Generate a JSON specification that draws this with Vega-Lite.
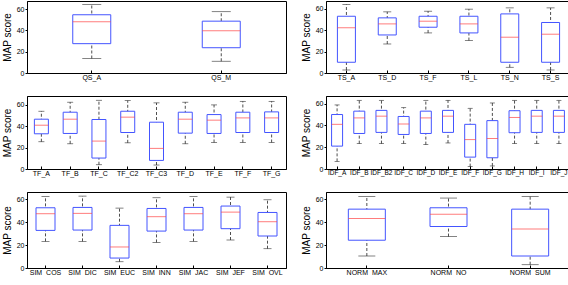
{
  "$schema": "https://vega.github.io/schema/vega-lite/v6.json",
  "padding": {"left": 1, "top": 0, "right": 2, "bottom": 0},
  "background": "white",
  "data": {"values": [
    {"g": "QS", "name": "QS_A", "lo": 13.6, "q1": 27.5, "med": 48.0, "q3": 54.6, "hi": 64.1},
    {"g": "QS", "name": "QS_M", "lo": 11.0, "q1": 23.7, "med": 39.5, "q3": 48.6, "hi": 57.5},
    {"g": "TS", "name": "TS_A", "lo": 2.8, "q1": 10.0, "med": 42.0, "q3": 52.8, "hi": 63.7},
    {"g": "TS", "name": "TS_D", "lo": 27.0, "q1": 35.4, "med": 45.7, "q3": 51.3, "hi": 56.9},
    {"g": "TS", "name": "TS_F", "lo": 37.3, "q1": 42.6, "med": 48.2, "q3": 52.8, "hi": 57.5},
    {"g": "TS", "name": "TS_L", "lo": 30.2, "q1": 37.3, "med": 45.7, "q3": 52.8, "hi": 59.4},
    {"g": "TS", "name": "TS_N", "lo": 5.3, "q1": 10.0, "med": 33.3, "q3": 55.0, "hi": 60.6},
    {"g": "TS", "name": "TS_S", "lo": 2.8, "q1": 10.0, "med": 36.1, "q3": 47.0, "hi": 60.6},
    {"g": "TF", "name": "TF_A", "lo": 25.4, "q1": 32.8, "med": 40.8, "q3": 46.4, "hi": 53.8},
    {"g": "TF", "name": "TF_B", "lo": 23.5, "q1": 33.1, "med": 46.4, "q3": 52.9, "hi": 62.2},
    {"g": "TF", "name": "TF_C", "lo": 4.0, "q1": 10.2, "med": 26.0, "q3": 46.1, "hi": 64.0},
    {"g": "TF", "name": "TF_C2", "lo": 24.4, "q1": 34.0, "med": 48.3, "q3": 53.8, "hi": 63.7},
    {"g": "TF", "name": "TF_C3", "lo": 3.7, "q1": 8.0, "med": 19.2, "q3": 43.6, "hi": 61.6},
    {"g": "TF", "name": "TF_D", "lo": 23.5, "q1": 33.4, "med": 46.4, "q3": 52.9, "hi": 62.2},
    {"g": "TF", "name": "TF_E", "lo": 24.7, "q1": 33.1, "med": 45.5, "q3": 50.7, "hi": 59.7},
    {"g": "TF", "name": "TF_F", "lo": 24.7, "q1": 34.0, "med": 47.6, "q3": 52.9, "hi": 63.0},
    {"g": "TF", "name": "TF_G", "lo": 24.7, "q1": 34.0, "med": 47.6, "q3": 53.2, "hi": 63.0},
    {"g": "IDF", "name": "IDF_A", "lo": 7.0, "q1": 21.0, "med": 41.0, "q3": 50.0, "hi": 58.8},
    {"g": "IDF", "name": "IDF_B", "lo": 23.3, "q1": 32.6, "med": 46.9, "q3": 53.1, "hi": 63.0},
    {"g": "IDF", "name": "IDF_B2", "lo": 23.3, "q1": 33.6, "med": 48.5, "q3": 53.8, "hi": 63.0},
    {"g": "IDF", "name": "IDF_C", "lo": 23.3, "q1": 31.7, "med": 41.3, "q3": 48.2, "hi": 56.3},
    {"g": "IDF", "name": "IDF_D", "lo": 22.4, "q1": 32.6, "med": 46.9, "q3": 53.1, "hi": 63.0},
    {"g": "IDF", "name": "IDF_E", "lo": 23.9, "q1": 33.6, "med": 48.5, "q3": 53.8, "hi": 63.0},
    {"g": "IDF", "name": "IDF_F", "lo": 2.2, "q1": 10.9, "med": 27.0, "q3": 41.0, "hi": 55.7},
    {"g": "IDF", "name": "IDF_G", "lo": 2.8, "q1": 10.3, "med": 28.0, "q3": 44.4, "hi": 60.6},
    {"g": "IDF", "name": "IDF_H", "lo": 23.3, "q1": 33.3, "med": 47.3, "q3": 53.5, "hi": 63.0},
    {"g": "IDF", "name": "IDF_I", "lo": 23.3, "q1": 33.6, "med": 48.5, "q3": 53.8, "hi": 63.0},
    {"g": "IDF", "name": "IDF_J", "lo": 23.3, "q1": 33.6, "med": 48.5, "q3": 53.8, "hi": 63.0},
    {"g": "SIM", "name": "SIM_COS", "lo": 23.3, "q1": 32.9, "med": 47.5, "q3": 52.7, "hi": 62.6},
    {"g": "SIM", "name": "SIM_DIC", "lo": 23.3, "q1": 33.2, "med": 47.8, "q3": 53.0, "hi": 62.9},
    {"g": "SIM", "name": "SIM_EUC", "lo": 5.5, "q1": 8.7, "med": 18.4, "q3": 37.3, "hi": 52.4},
    {"g": "SIM", "name": "SIM_INN", "lo": 22.4, "q1": 32.3, "med": 44.9, "q3": 52.1, "hi": 61.5},
    {"g": "SIM", "name": "SIM_JAC", "lo": 23.3, "q1": 33.2, "med": 47.5, "q3": 53.0, "hi": 62.6},
    {"g": "SIM", "name": "SIM_JEF", "lo": 24.5, "q1": 34.4, "med": 48.9, "q3": 54.2, "hi": 62.0},
    {"g": "SIM", "name": "SIM_OVL", "lo": 16.9, "q1": 28.0, "med": 40.5, "q3": 48.6, "hi": 59.7},
    {"g": "NORM", "name": "NORM_MAX", "lo": 10.5, "q1": 24.3, "med": 43.3, "q3": 51.5, "hi": 62.6},
    {"g": "NORM", "name": "NORM_NO", "lo": 27.5, "q1": 36.3, "med": 47.1, "q3": 52.7, "hi": 61.2},
    {"g": "NORM", "name": "NORM_SUM", "lo": 2.9, "q1": 10.5, "med": 34.2, "q3": 51.5, "hi": 62.6}
  ]},
  "columns": 2,
  "spacing": {"row": 14, "column": 13},
  "concat": [
    {
      "width": 259, "height": 72,
      "transform": [{"filter": "datum.g === 'QS'"}],
      "encoding": {
        "x": {"field": "name", "type": "nominal", "sort": null, "title": null, "scale": {"paddingInner": 0, "paddingOuter": 0}},
        "y": {"field": "lo", "type": "quantitative", "title": "MAP score", "axis": {"values": [0, 20, 40, 60]}, "scale": {"domain": [0, 67.5], "nice": false}}
      },
      "layer": [
        {"mark": {"type": "rule", "color": "#222222", "strokeDash": [3, 2], "strokeWidth": 0.8}, "encoding": {"y2": {"field": "hi"}}},
        {"mark": {"type": "bar", "fill": "white", "stroke": "#4455ff", "strokeWidth": 1, "size": 38}, "encoding": {"y": {"field": "q1", "type": "quantitative"}, "y2": {"field": "q3"}}},
        {"mark": {"type": "tick", "color": "#ff4444", "size": 38, "thickness": 1}, "encoding": {"y": {"field": "med", "type": "quantitative"}}},
        {"mark": {"type": "tick", "color": "#222222", "size": 19, "thickness": 0.8}, "encoding": {"y": {"field": "hi", "type": "quantitative"}}},
        {"mark": {"type": "tick", "color": "#222222", "size": 19, "thickness": 0.8}}
      ]
    },
    {
      "width": 245, "height": 72,
      "transform": [{"filter": "datum.g === 'TS'"}],
      "encoding": {
        "x": {"field": "name", "type": "nominal", "sort": null, "title": null, "scale": {"paddingInner": 0, "paddingOuter": 0}},
        "y": {"field": "lo", "type": "quantitative", "title": "MAP score", "axis": {"values": [0, 20, 40, 60]}, "scale": {"domain": [0, 67], "nice": false}}
      },
      "layer": [
        {"mark": {"type": "rule", "color": "#222222", "strokeDash": [3, 2], "strokeWidth": 0.8}, "encoding": {"y2": {"field": "hi"}}},
        {"mark": {"type": "bar", "fill": "white", "stroke": "#4455ff", "strokeWidth": 1, "size": 18}, "encoding": {"y": {"field": "q1", "type": "quantitative"}, "y2": {"field": "q3"}}},
        {"mark": {"type": "tick", "color": "#ff4444", "size": 18, "thickness": 1}, "encoding": {"y": {"field": "med", "type": "quantitative"}}},
        {"mark": {"type": "tick", "color": "#222222", "size": 8, "thickness": 0.8}, "encoding": {"y": {"field": "hi", "type": "quantitative"}}},
        {"mark": {"type": "tick", "color": "#222222", "size": 8, "thickness": 0.8}}
      ]
    },
    {
      "width": 259, "height": 73,
      "transform": [{"filter": "datum.g === 'TF'"}],
      "encoding": {
        "x": {"field": "name", "type": "nominal", "sort": null, "title": null, "scale": {"paddingInner": 0, "paddingOuter": 0}},
        "y": {"field": "lo", "type": "quantitative", "title": "MAP score", "axis": {"values": [0, 20, 40, 60]}, "scale": {"domain": [0, 68], "nice": false}}
      },
      "layer": [
        {"mark": {"type": "rule", "color": "#222222", "strokeDash": [3, 2], "strokeWidth": 0.8}, "encoding": {"y2": {"field": "hi"}}},
        {"mark": {"type": "bar", "fill": "white", "stroke": "#4455ff", "strokeWidth": 1, "size": 14}, "encoding": {"y": {"field": "q1", "type": "quantitative"}, "y2": {"field": "q3"}}},
        {"mark": {"type": "tick", "color": "#ff4444", "size": 14, "thickness": 1}, "encoding": {"y": {"field": "med", "type": "quantitative"}}},
        {"mark": {"type": "tick", "color": "#222222", "size": 6, "thickness": 0.8}, "encoding": {"y": {"field": "hi", "type": "quantitative"}}},
        {"mark": {"type": "tick", "color": "#222222", "size": 6, "thickness": 0.8}}
      ]
    },
    {
      "width": 244, "height": 73,
      "transform": [{"filter": "datum.g === 'IDF'"}],
      "encoding": {
        "x": {"field": "name", "type": "nominal", "sort": null, "title": null, "scale": {"paddingInner": 0, "paddingOuter": 0}, "axis": {"labelFontSize": 6.5}},
        "y": {"field": "lo", "type": "quantitative", "title": "MAP score", "axis": {"values": [0, 20, 40, 60]}, "scale": {"domain": [0, 67], "nice": false}}
      },
      "layer": [
        {"mark": {"type": "rule", "color": "#222222", "strokeDash": [3, 2], "strokeWidth": 0.8}, "encoding": {"y2": {"field": "hi"}}},
        {"mark": {"type": "bar", "fill": "white", "stroke": "#4455ff", "strokeWidth": 1, "size": 11}, "encoding": {"y": {"field": "q1", "type": "quantitative"}, "y2": {"field": "q3"}}},
        {"mark": {"type": "tick", "color": "#ff4444", "size": 11, "thickness": 1}, "encoding": {"y": {"field": "med", "type": "quantitative"}}},
        {"mark": {"type": "tick", "color": "#222222", "size": 5, "thickness": 0.8}, "encoding": {"y": {"field": "hi", "type": "quantitative"}}},
        {"mark": {"type": "tick", "color": "#222222", "size": 5, "thickness": 0.8}}
      ]
    },
    {
      "width": 259, "height": 76,
      "transform": [{"filter": "datum.g === 'SIM'"}],
      "encoding": {
        "x": {"field": "name", "type": "nominal", "sort": null, "title": null, "scale": {"paddingInner": 0, "paddingOuter": 0}},
        "y": {"field": "lo", "type": "quantitative", "title": "MAP score", "axis": {"values": [0, 20, 40, 60]}, "scale": {"domain": [0, 66.5], "nice": false}}
      },
      "layer": [
        {"mark": {"type": "rule", "color": "#222222", "strokeDash": [3, 2], "strokeWidth": 0.8}, "encoding": {"y2": {"field": "hi"}}},
        {"mark": {"type": "bar", "fill": "white", "stroke": "#4455ff", "strokeWidth": 1, "size": 19}, "encoding": {"y": {"field": "q1", "type": "quantitative"}, "y2": {"field": "q3"}}},
        {"mark": {"type": "tick", "color": "#ff4444", "size": 19, "thickness": 1}, "encoding": {"y": {"field": "med", "type": "quantitative"}}},
        {"mark": {"type": "tick", "color": "#222222", "size": 8, "thickness": 0.8}, "encoding": {"y": {"field": "hi", "type": "quantitative"}}},
        {"mark": {"type": "tick", "color": "#222222", "size": 8, "thickness": 0.8}}
      ]
    },
    {
      "width": 245, "height": 76,
      "transform": [{"filter": "datum.g === 'NORM'"}],
      "encoding": {
        "x": {"field": "name", "type": "nominal", "sort": null, "title": null, "scale": {"paddingInner": 0, "paddingOuter": 0}},
        "y": {"field": "lo", "type": "quantitative", "title": "MAP score", "axis": {"values": [0, 20, 40, 60]}, "scale": {"domain": [0, 66.5], "nice": false}}
      },
      "layer": [
        {"mark": {"type": "rule", "color": "#222222", "strokeDash": [3, 2], "strokeWidth": 0.8}, "encoding": {"y2": {"field": "hi"}}},
        {"mark": {"type": "bar", "fill": "white", "stroke": "#4455ff", "strokeWidth": 1, "size": 37}, "encoding": {"y": {"field": "q1", "type": "quantitative"}, "y2": {"field": "q3"}}},
        {"mark": {"type": "tick", "color": "#ff4444", "size": 37, "thickness": 1}, "encoding": {"y": {"field": "med", "type": "quantitative"}}},
        {"mark": {"type": "tick", "color": "#222222", "size": 17, "thickness": 0.8}, "encoding": {"y": {"field": "hi", "type": "quantitative"}}},
        {"mark": {"type": "tick", "color": "#222222", "size": 17, "thickness": 0.8}}
      ]
    }
  ],
  "config": {
    "view": {"stroke": "#000000", "strokeWidth": 1},
    "axis": {
      "grid": false,
      "domainColor": "#000000",
      "tickColor": "#000000",
      "labelColor": "#000000",
      "titleColor": "#000000",
      "labelFont": "Liberation Sans",
      "titleFont": "Liberation Sans",
      "labelFontSize": 7,
      "titleFontSize": 10,
      "titleFontWeight": "normal",
      "zindex": 1
    },
    "axisY": {"tickSize": 2, "labelPadding": 1, "titlePadding": 4, "labelOverlap": false, "labelFlush": false, "labelBound": false},
    "axisX": {"labelAngle": 0, "tickSize": -3, "labelPadding": 3}
  }
}
